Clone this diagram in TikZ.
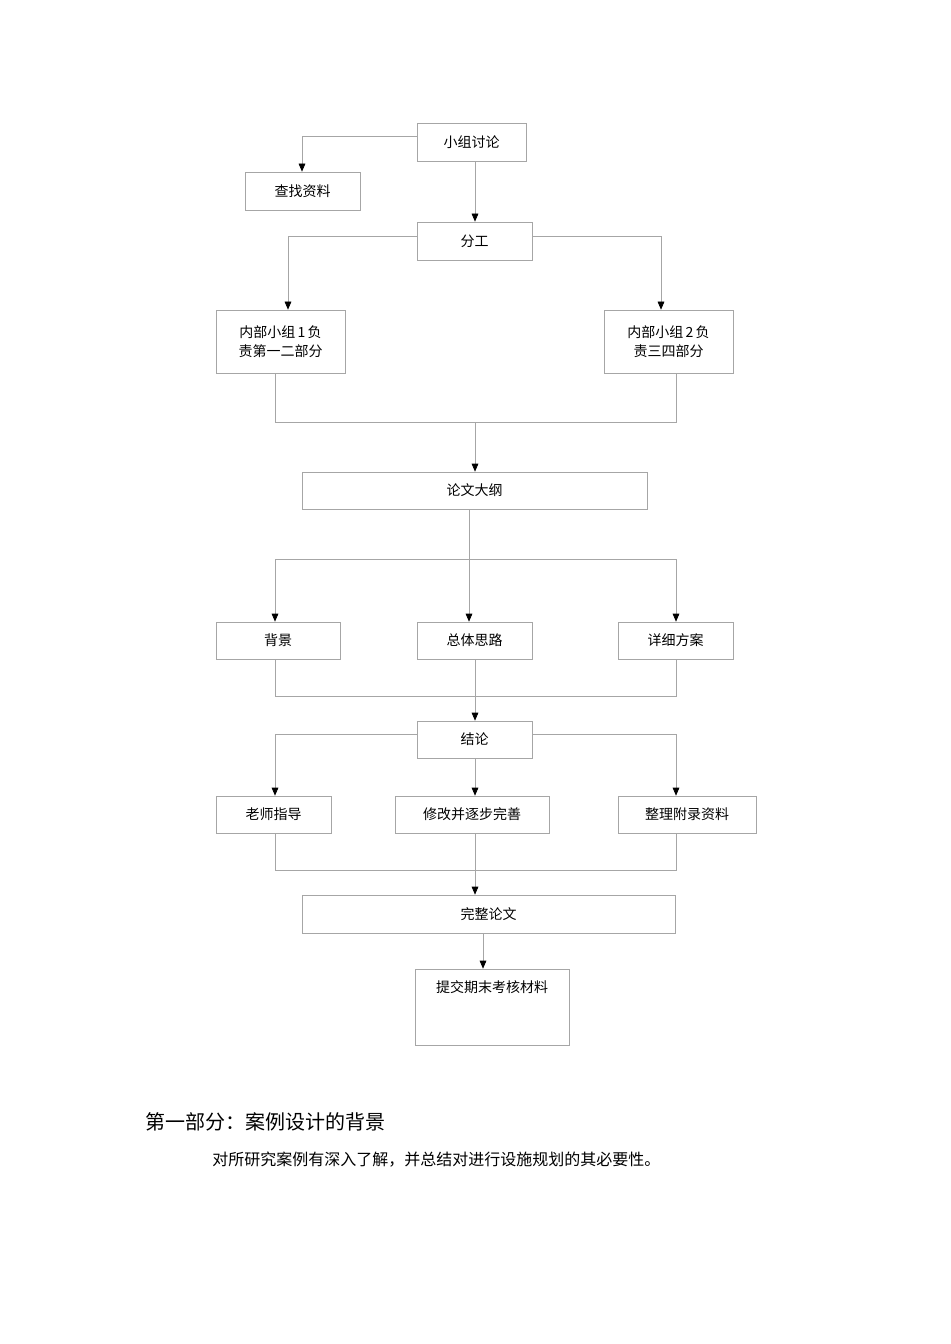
\documentclass[tikz,border=0pt]{standalone}
\usepackage{fontspec}
\setmainfont{Liberation Serif}
\newfontfamily\cjk{Noto Sans CJK SC}
\usetikzlibrary{arrows.meta}
\tikzset{
  bx/.style={draw=gray!70, line width=0.5pt, font=\cjk\fontsize{10.5pt}{14pt}\selectfont, align=center, inner sep=0pt},
  ln/.style={draw=gray!70, line width=0.5pt},
  ar/.style={ln, -{Triangle[length=6pt,width=5pt,fill=black,color=black]}}
}
\newcommand\mkbox[6]{\node[bx, minimum width={(#4-#2)*0.75pt}, minimum height={(#5-#3)*0.75pt}] (#1) at ({(#2+#4)/2},{(#3+#5)/2}) {#6};}
\begin{document}
\begin{tikzpicture}[x=0.75pt,y=-0.75pt]
\useasboundingbox (0,0) rectangle (950,1344);
\mkbox{a}{417}{123}{526}{161}{小组讨论}
\mkbox{b}{245}{172}{360}{210}{查找资料}
\mkbox{c}{417}{222}{532}{260}{分工}
\mkbox{d}{216}{310}{345}{373}{内部小组\,1\,负\\责第一二部分}
\mkbox{e}{604}{310}{733}{373}{内部小组\,2\,负\\责三四部分}
\mkbox{f}{302}{472}{647}{509}{论文大纲}
\mkbox{g}{216}{622}{340}{659}{背景}
\mkbox{h}{417}{622}{532}{659}{总体思路}
\mkbox{i}{618}{622}{733}{659}{详细方案}
\mkbox{j}{417}{721}{532}{758}{结论}
\mkbox{k}{216}{796}{331}{833}{老师指导}
\mkbox{l}{395}{796}{549}{833}{修改并逐步完善}
\mkbox{m}{618}{796}{756}{833}{整理附录资料}
\mkbox{n}{302}{895}{675}{933}{完整论文}
\node[bx, minimum width={154*0.75pt}, minimum height={76*0.75pt}] (o) at (492,1007) {};
\node[font=\cjk\fontsize{10.5pt}{14pt}\selectfont, anchor=north] (ot) at (492,976) {提交期末考核材料};
% connectors
\draw[ar] (a.west|-0,136) -- (302,136) -- (b.north-|302,0);
\draw[ar] (a.south-|475,0) -- (c.north-|475,0);
\draw[ar] (c.west|-0,236) -- (288,236) -- (d.north-|288,0);
\draw[ar] (c.east|-0,236) -- (661,236) -- (e.north-|661,0);
\coordinate (m1) at (475,422);
\draw[ln] (d.south-|275,0) -- (275,422) -- (676,422) -- (e.south-|676,0);
\draw[ar] (m1) -- (f.north-|475,0);
\draw[ar] (f.south-|469,0) -- (h.north-|469,0);
\draw[ar] (469,559) -- (275,559) -- (g.north-|275,0);
\draw[ar] (469,559) -- (676,559) -- (i.north-|676,0);
\draw[ln] (g.south-|275,0) -- (275,696) -- (676,696) -- (i.south-|676,0);
\draw[ar] (h.south-|475,0) -- (j.north-|475,0);
\draw[ar] (j.west|-0,734) -- (275,734) -- (k.north-|275,0);
\draw[ar] (j.east|-0,734) -- (676,734) -- (m.north-|676,0);
\draw[ar] (j.south-|475,0) -- (l.north-|475,0);
\draw[ln] (k.south-|275,0) -- (275,870) -- (676,870) -- (m.south-|676,0);
\draw[ar] (l.south-|475,0) -- (n.north-|475,0);
\draw[ar] (n.south-|483,0) -- (o.north-|483,0);
\node[anchor=west, font=\cjk\fontsize{15pt}{18pt}\selectfont, inner sep=0pt] (t1) at (145,1122) {第一部分：案例设计的背景};
\node[anchor=west, font=\cjk\fontsize{12pt}{15pt}\selectfont, inner sep=0pt] (t2) at (212,1160) {对所研究案例有深入了解，并总结对进行设施规划的其必要性。};
\end{tikzpicture}
\end{document}
